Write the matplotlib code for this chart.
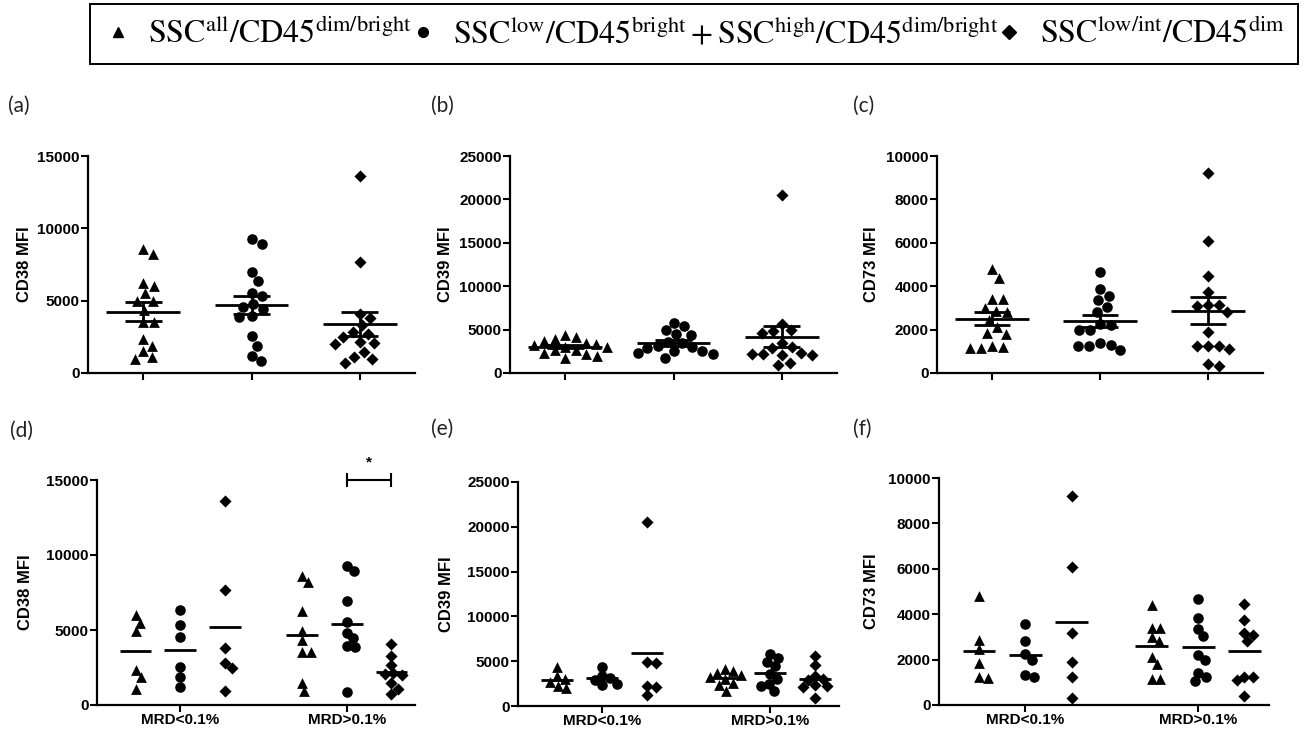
import numpy as np
import matplotlib
matplotlib.use("Agg")
import matplotlib.pyplot as plt
from matplotlib.lines import Line2D

plt.rcParams["font.family"] = ["Liberation Sans", "DejaVu Sans"]
plt.rcParams["mathtext.fontset"] = "stix"

W, H = 1309, 732

# MFI values, split by MRD group (lo = MRD<0.1%, hi = MRD>0.1%)
# tri = SSCall/CD45dim/bright, cir = SSClow/CD45bright + SSChigh/CD45dim/bright, dia = SSClow/int/CD45dim
cd38_tri_lo = [6000, 5500, 4950, 2350, 1900, 1100]
cd38_tri_hi = [8600, 8200, 6250, 4950, 4350, 3550, 3550, 1500, 950]
cd38_cir_lo = [6350, 5350, 4550, 2550, 1900, 1200]
cd38_cir_hi = [9250, 8950, 6950, 5550, 4800, 4450, 3950, 3850, 850]
cd38_dia_lo = [13600, 7700, 3800, 2800, 2500, 950]
cd38_dia_hi = [4050, 3300, 2700, 2150, 2050, 2000, 1450, 1100, 720]

cd39_tri_lo = [4400, 3300, 3000, 2700, 2200, 2000]
cd39_tri_hi = [4100, 3900, 3700, 3500, 3200, 3000, 2600, 2300, 1700]
cd39_cir_lo = [4400, 3400, 3100, 2900, 2500, 2300]
cd39_cir_hi = [5800, 5400, 4900, 4500, 3600, 3000, 2500, 2200, 1700]
cd39_dia_lo = [20500, 4900, 4800, 2200, 2100, 1200]
cd39_dia_hi = [5600, 4600, 3400, 3000, 2900, 2300, 2200, 2100, 900]

cd73_tri_lo = [4800, 2850, 2450, 1850, 1250, 1200]
cd73_tri_hi = [4400, 3400, 3400, 3000, 2800, 2100, 1800, 1150, 1150]
cd73_cir_lo = [3550, 2800, 2250, 2000, 1300, 1250]
cd73_cir_hi = [4650, 3850, 3350, 3050, 2200, 2000, 1400, 1250, 1050]
cd73_dia_lo = [9200, 6100, 3150, 1900, 1250, 300]
cd73_dia_hi = [4450, 3750, 3150, 3100, 2800, 1250, 1250, 1100, 400]

mrd_labels = ["MRD<0.1%", "MRD>0.1%"]
markers = ["^", "o", "D"]
msizes = [60, 58, 38]
legend_labels = [
    r"$\mathrm{SSC}^{\mathrm{all}}/\mathrm{CD45}^{\mathrm{dim/bright}}$",
    r"$\mathrm{SSC}^{\mathrm{low}}/\mathrm{CD45}^{\mathrm{bright}}+\mathrm{SSC}^{\mathrm{high}}/\mathrm{CD45}^{\mathrm{dim/bright}}$",
    r"$\mathrm{SSC}^{\mathrm{low/int}}/\mathrm{CD45}^{\mathrm{dim}}$",
]

panels = [
    # (lo lists, hi lists, ymax, tick step, ylabel)
    ([cd38_tri_lo, cd38_cir_lo, cd38_dia_lo], [cd38_tri_hi, cd38_cir_hi, cd38_dia_hi], 15000, 5000, "CD38 MFI"),
    ([cd39_tri_lo, cd39_cir_lo, cd39_dia_lo], [cd39_tri_hi, cd39_cir_hi, cd39_dia_hi], 25000, 5000, "CD39 MFI"),
    ([cd73_tri_lo, cd73_cir_lo, cd73_dia_lo], [cd73_tri_hi, cd73_cir_hi, cd73_dia_hi], 10000, 2000, "CD73 MFI"),
]

# axes boxes in pixels: left, top, right, bottom
top_boxes = [(88, 156, 415, 373), (510, 156, 837, 373), (937, 156, 1263, 373)]
bot_boxes = [(97, 480, 415, 705), (518, 482, 839, 706), (939, 478, 1269, 705)]
top_ylab_x = [32, 453, 879]   # right edge of rotated label
bot_ylab_x = [33, 454, 879]
top_letters = [("(a)", 8, 106), ("(b)", 431, 106), ("(c)", 853, 106)]
bot_letters = [("(d)", 10, 431), ("(e)", 431, 429), ("(f)", 853, 429)]


def rect(box):
    l, t, r, b = box
    return [l / W, 1 - b / H, (r - l) / W, (b - t) / H]


def swarm(vals, px_x, px_y, size):
    # simple beeswarm in pixel space: nearest free spot to the centre line
    vals = np.asarray(vals, dtype=float)
    offs = np.zeros(len(vals))
    placed = []
    for i in np.argsort(-vals, kind="stable"):
        y = vals[i] * px_y
        spans = []
        for px, py in placed:
            dy = abs(y - py)
            if dy < size:
                w = np.sqrt(size ** 2 - dy ** 2)
                spans.append((px - w, px + w))
        cands = [0.0] + [a for a, _ in spans] + [b for _, b in spans]
        cands.sort(key=lambda c: (round(abs(c), 6), -c))
        for c in cands:
            if all(not (a + 1e-6 < c < b - 1e-6) for a, b in spans):
                break
        placed.append((c, y))
        offs[i] = c / px_x
    return offs


def style_axes(ax, ymax, ytick):
    for s in ["top", "right"]:
        ax.spines[s].set_visible(False)
    for s in ["left", "bottom"]:
        ax.spines[s].set_linewidth(1.6)
    ax.set_ylim(0, ymax)
    ax.set_yticks(np.arange(0, ymax + 1, ytick))
    ax.tick_params(direction="out", length=5, width=1.5, labelsize=11, pad=1)
    for lab in ax.get_yticklabels():
        lab.set_fontweight("bold")


fig = plt.figure(figsize=(W / 100, H / 100), dpi=100)

for p, (lo, hi, ymax, ytick, ylabel) in enumerate(panels):
    # top row: all samples, mean +/- SEM
    ax = fig.add_axes(rect(top_boxes[p]))
    l, t, r, b = top_boxes[p]
    xlim = (-0.51, 2.51)
    ax.set_xlim(*xlim)
    px_x = (r - l) / (xlim[1] - xlim[0])
    px_y = (b - t) / ymax
    for g in range(3):
        vals = np.array(lo[g] + hi[g], dtype=float)
        offs = swarm(vals, px_x, px_y, 11)
        ax.scatter(g + offs, vals, marker=markers[g], s=msizes[g], color="black",
                   linewidths=0, zorder=3, clip_on=False)
        m = vals.mean()
        sem = vals.std(ddof=1) / np.sqrt(len(vals))
        ax.hlines(m, g - 0.34, g + 0.34, color="black", lw=2, zorder=4)
        ax.vlines(g, m - sem, m + sem, color="black", lw=2, zorder=4)
        ax.hlines([m - sem, m + sem], g - 0.17, g + 0.17, color="black", lw=2, zorder=4)
    ax.set_xticks([0, 1, 2])
    ax.set_xticklabels([])
    style_axes(ax, ymax, ytick)
    ax.set_ylabel(ylabel, fontsize=12, fontweight="bold")
    ax.yaxis.set_label_coords((top_ylab_x[p] - l) / (r - l), 0.5)

    # bottom row: split by MRD, mean only
    ax = fig.add_axes(rect(bot_boxes[p]))
    l, t, r, b = bot_boxes[p]
    xlim = (-0.5, 1.41)
    ax.set_xlim(*xlim)
    px_x = (r - l) / (xlim[1] - xlim[0])
    px_y = (b - t) / ymax
    sub = 0.268
    for k, grp in enumerate([lo, hi]):
        for g in range(3):
            vals = np.array(grp[g], dtype=float)
            c = k + (g - 1) * sub
            offs = swarm(vals, px_x, px_y, 8.5)
            ax.scatter(c + offs, vals, marker=markers[g], s=msizes[g], color="black",
                       linewidths=0, zorder=3, clip_on=False)
            ax.hlines(vals.mean(), c - 0.095, c + 0.095, color="black", lw=2, zorder=4)
    ax.set_xticks([0, 1])
    ax.set_xticklabels(mrd_labels, fontsize=12, fontweight="bold")
    style_axes(ax, ymax, ytick)
    ax.set_ylabel(ylabel, fontsize=12, fontweight="bold")
    ax.yaxis.set_label_coords((bot_ylab_x[p] - l) / (r - l), 0.5)

    if p == 0:
        # significance bracket between MRD>0.1% circles and diamonds
        x0, x1, yb = 1.0, 1.0 + sub, ymax
        ax.plot([x0, x1], [yb, yb], color="black", lw=1.5, clip_on=False)
        ax.plot([x0, x0], [yb - 420, yb + 420], color="black", lw=1.5, clip_on=False)
        ax.plot([x1, x1], [yb - 420, yb + 420], color="black", lw=1.5, clip_on=False)
        ax.text((x0 + x1) / 2, yb + 700, "*", ha="center", va="bottom", fontsize=11,
                fontweight="bold")

for txt, x, y in top_letters + bot_letters:
    fig.text(x / W, 1 - y / H, txt, ha="left", va="center", fontsize=15,
             family=["Lato", "DejaVu Sans"], color="#222222")

handles = [Line2D([], [], marker=m, color="black", ls="none", markersize=7) for m in markers]
leg = fig.legend(handles, legend_labels, loc="center",
                 bbox_to_anchor=(90 / W, 1 - 64 / H, 1208 / W, 60 / H), mode="expand",
                 ncol=3, fontsize=23, frameon=True, fancybox=False, edgecolor="black",
                 framealpha=1, handletextpad=0.5, borderaxespad=0, borderpad=0.42,
                 handlelength=0.9)
leg.get_frame().set_linewidth(1.4)

fig.savefig("out.png", dpi=100)
